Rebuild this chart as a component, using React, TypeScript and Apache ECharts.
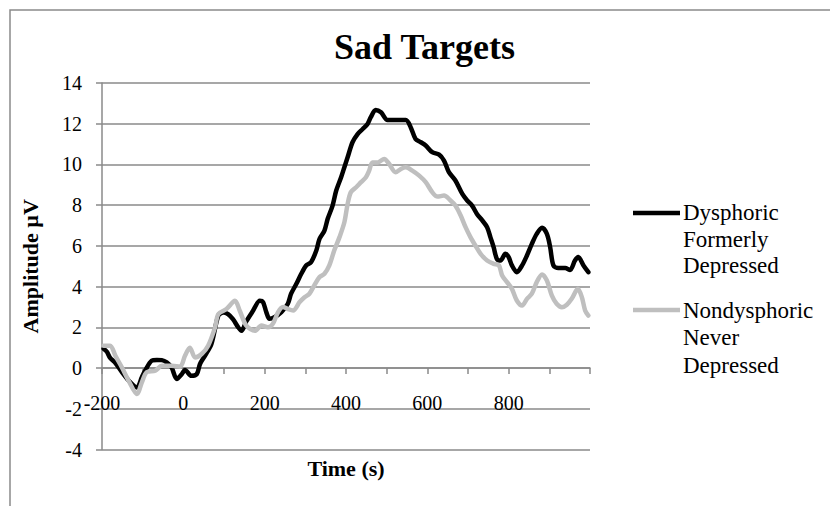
import React, { useEffect, useRef } from "react";
import * as echarts from "echarts";

const chartTitle = "Sad Targets";
const xAxisName = "Time (s)";
const yAxisName = "Amplitude µV";
const seriesNames = ["Dysphoric\nFormerly\nDepressed", "Nondysphoric\nNever\nDepressed"];

const blackTimes = [
  -196, -188, -180, -167, -151, -135, -114, -102, -94, -78, -65, -53, -41, -29, -16, -4, 4, 20, 33, 41,
  53, 69, 86, 98, 110, 122, 135, 143, 155, 171, 188, 196, 204, 212, 224, 241, 257, 265, 278, 290,
  302, 314, 327, 335, 347, 355, 367, 376, 388, 396, 404, 416, 429, 441, 453, 461, 473, 486, 502, 518,
  547, 559, 571, 584, 596, 612, 629, 641, 653, 669, 686, 698, 710, 722, 735, 747, 755, 763, 771, 780,
  792, 800, 808, 820, 833, 845, 857, 869, 882, 894, 902, 910, 922, 939, 951, 963, 971, 984, 996,
];
const blackValues = [
  0.95, 0.8, 0.5, 0.25, -0.2, -0.6, -0.95, -0.45, -0.13, 0.36, 0.4, 0.39, 0.28, 0.03, -0.54, -0.3, -0.1, -0.38, -0.3, 0.2,
  0.6, 1.18, 2.57, 2.73, 2.65, 2.4, 2.0, 1.83, 2.3, 2.8, 3.3, 3.24, 2.75, 2.42, 2.5, 2.75, 3.16, 3.65, 4.14, 4.63,
  5.04, 5.2, 5.77, 6.35, 6.75, 7.33, 7.98, 8.72, 9.37, 9.86, 10.35, 11.09, 11.5, 11.74, 11.99, 12.32, 12.68, 12.56, 12.18, 12.18,
  12.18, 11.83, 11.25, 11.09, 10.93, 10.6, 10.48, 10.19, 9.62, 9.21, 8.55, 8.23, 7.98, 7.57, 7.25, 6.92, 6.43, 5.94, 5.36, 5.28,
  5.61, 5.45, 5.04, 4.71, 5.04, 5.53, 6.1, 6.59, 6.89, 6.59, 5.94, 5.04, 4.91, 4.91, 4.82, 5.28, 5.45, 5.04, 4.71,
];

const grayTimes = [
  -196, -180, -167, -151, -135, -114, -102, -90, -69, -53, -29, -8, 4, 16, 29, 45, 61, 78, 86, 106,
  127, 139, 155, 176, 192, 208, 220, 233, 245, 257, 270, 286, 298, 310, 322, 335, 347, 359, 371, 384,
  396, 404, 412, 425, 437, 449, 457, 465, 478, 494, 506, 522, 535, 547, 563, 580, 596, 612, 625, 641,
  657, 669, 682, 694, 706, 718, 731, 747, 763, 776, 784, 796, 808, 820, 833, 845, 857, 869, 882, 894,
  906, 918, 931, 943, 955, 970, 980, 988, 996,
];
const grayValues = [
  1.1, 1.1, 0.6, 0.03, -0.6, -1.27, -0.7, -0.2, -0.13, 0.11, 0.11, 0.07, 0.6, 1.0, 0.52, 0.69, 1.1, 2.0, 2.65, 2.9,
  3.3, 2.8, 2.08, 1.83, 2.09, 2.0, 2.17, 2.75, 3.0, 2.9, 2.83, 3.24, 3.48, 3.65, 4.06, 4.47, 4.63, 5.04, 5.77, 6.43,
  7.16, 8.06, 8.64, 8.88, 9.13, 9.37, 9.7, 10.1, 10.1, 10.27, 10.03, 9.62, 9.78, 9.86, 9.7, 9.45, 9.13, 8.64, 8.42, 8.47,
  8.23, 7.98, 7.49, 6.92, 6.43, 6.02, 5.61, 5.28, 5.12, 5.04, 4.55, 4.22, 3.89, 3.32, 3.07, 3.4, 3.65, 4.22, 4.6, 4.3,
  3.57, 3.16, 2.99, 3.11, 3.4, 3.89, 3.48, 2.83, 2.58,
];

const seriesColors = ["#000000", "#bfbfbf"];
const FONT = "Liberation Serif";
const AXIS_GRAY = "#8a8a8a";

export default function App() {
  const ref = useRef<HTMLDivElement>(null);

  useEffect(() => {
    if (!ref.current) return;
    const chart = echarts.init(ref.current, undefined, { renderer: "svg" });
    const blackData = blackTimes.map((t, i) => [t, blackValues[i]]);
    const grayData = grayTimes.map((t, i) => [t, grayValues[i]]);

    chart.setOption({
      animation: false,
      backgroundColor: "#ffffff",
      title: {
        text: chartTitle,
        left: 329,
        top: 24,
        textStyle: { fontFamily: FONT, fontSize: 36, fontWeight: "bold", color: "#000" },
      },
      grid: {
        left: 102,
        right: 240,
        top: 83,
        bottom: 56.5,
        containLabel: false,
        outerBoundsMode: "none",
      },
      xAxis: {
        type: "value",
        min: -200,
        max: 1000,
        interval: 100,
        name: xAxisName,
        nameLocation: "middle",
        nameGap: 8,
        nameMoveOverlap: false,
        nameTextStyle: { fontFamily: FONT, fontSize: 22, fontWeight: "bold", color: "#000" },
        axisLine: { show: true, onZero: true, lineStyle: { color: AXIS_GRAY, width: 1.5 } },
        axisTick: { show: true, inside: false, length: 6, lineStyle: { color: AXIS_GRAY, width: 1.5 } },
        axisLabel: {
          margin: -57,
          fontFamily: FONT,
          fontSize: 20,
          color: "#000",
          formatter: (v: number) => (v % 200 === 0 && v < 1000 ? String(v) : ""),
        },
        splitLine: { show: false },
      },
      yAxis: {
        type: "value",
        min: -4,
        max: 14,
        interval: 2,
        name: yAxisName,
        nameLocation: "middle",
        nameGap: 61,
        nameTextStyle: { fontFamily: FONT, fontSize: 22, fontWeight: "bold", color: "#000" },
        axisLine: { show: true, onZero: false, lineStyle: { color: AXIS_GRAY, width: 1.5 } },
        axisTick: { show: true, inside: false, length: 6, lineStyle: { color: AXIS_GRAY, width: 1.5 } },
        axisLabel: { margin: 20, fontFamily: FONT, fontSize: 20, color: "#000" },
        splitLine: { show: true, lineStyle: { color: AXIS_GRAY, width: 1.5 } },
      },
      series: [
        {
          name: seriesNames[0],
          type: "line",
          data: blackData,
          showSymbol: false,
          smooth: 0.3,
          lineStyle: { color: seriesColors[0], width: 4.5, join: "round", cap: "round" },
        },
        {
          name: seriesNames[1],
          type: "line",
          data: grayData,
          showSymbol: false,
          smooth: 0.3,
          lineStyle: { color: seriesColors[1], width: 4.5, join: "round", cap: "round" },
        },
      ],
      graphic: [
        {
          type: "rect",
          shape: { x: 10, y: 10, width: 900, height: 600 },
          style: { fill: "none", stroke: AXIS_GRAY, lineWidth: 1.5 },
          silent: true,
        },
        {
          type: "line",
          shape: { x1: 633, y1: 213, x2: 680, y2: 213 },
          style: { stroke: seriesColors[0], lineWidth: 4.5 },
        },
        {
          type: "text",
          x: 683,
          y: 199.5,
          style: {
            text: seriesNames[0],
            fontFamily: FONT,
            fontSize: 23,
            lineHeight: 26.5,
            fill: "#000",
            verticalAlign: "top",
          },
        },
        {
          type: "line",
          shape: { x1: 633, y1: 310, x2: 680, y2: 310 },
          style: { stroke: seriesColors[1], lineWidth: 4.5 },
        },
        {
          type: "text",
          x: 683,
          y: 296.5,
          style: {
            text: seriesNames[1],
            fontFamily: FONT,
            fontSize: 23,
            lineHeight: 27.5,
            fill: "#000",
            verticalAlign: "top",
          },
        },
      ],
    });
    return () => chart.dispose();
  }, []);

  return (
    <div
      ref={ref}
      style={{ position: "fixed", left: 0, top: 0, width: 830, height: 506, background: "#fff" }}
    />
  );
}
